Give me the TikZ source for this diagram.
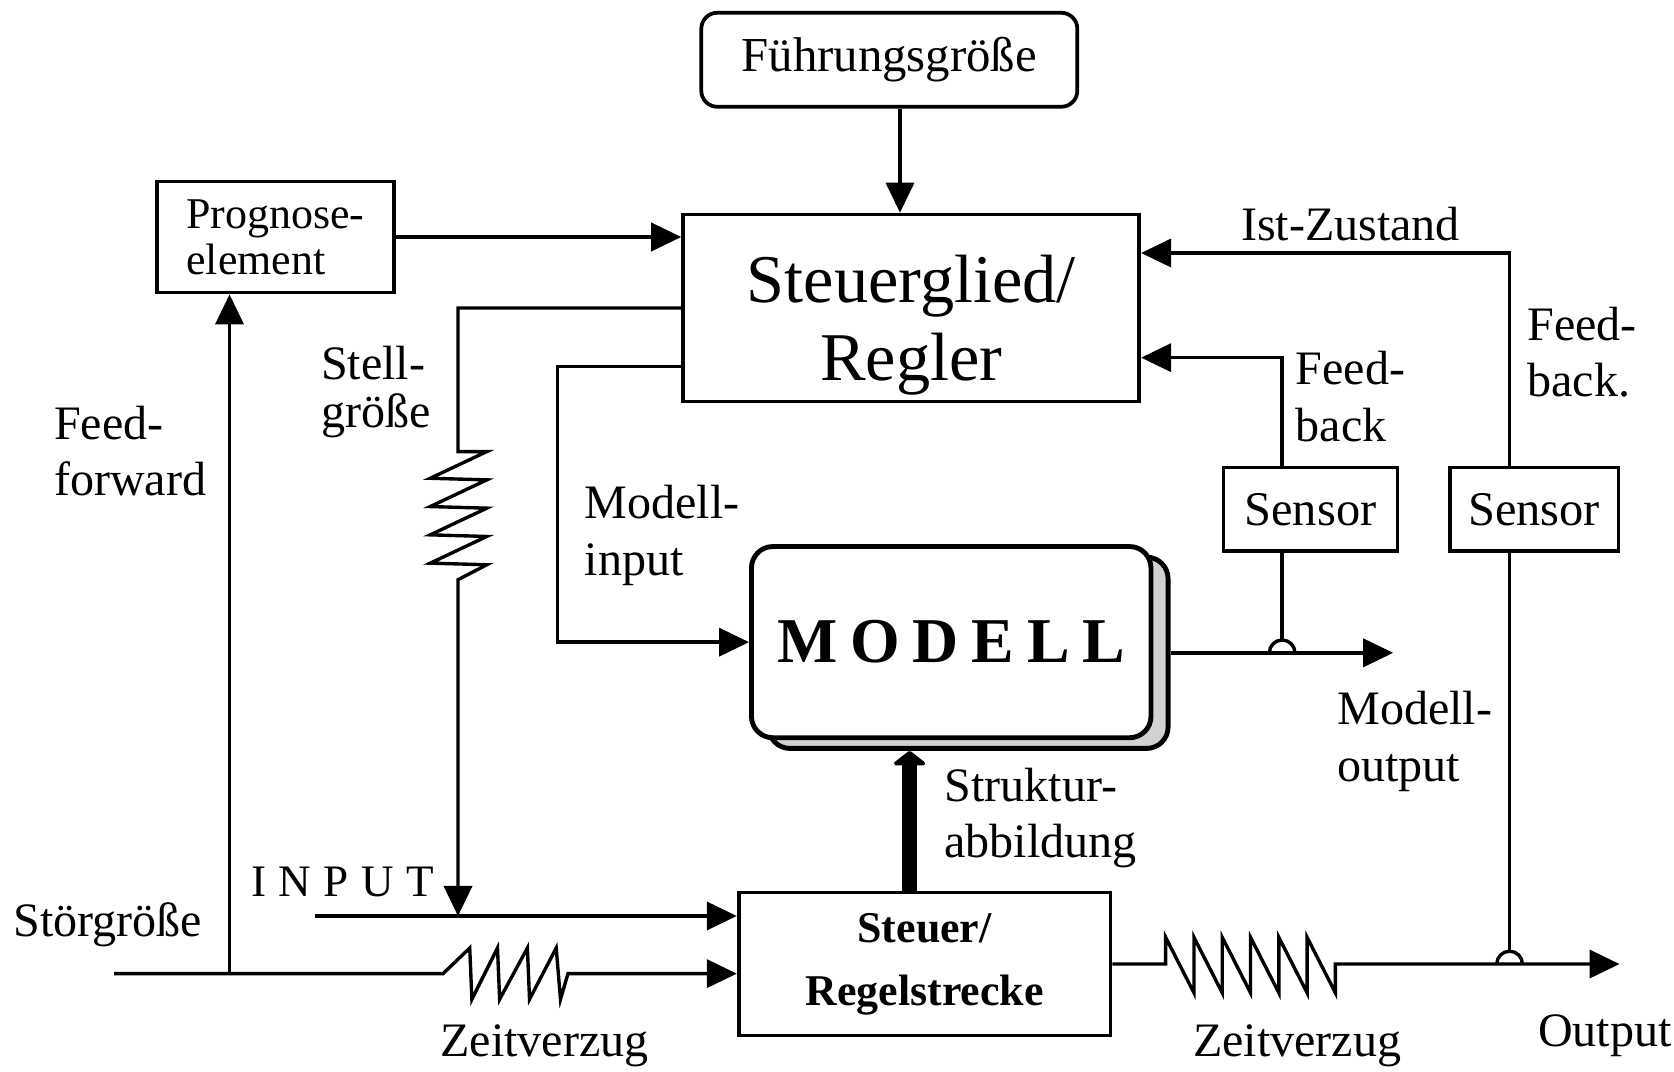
\documentclass[tikz,border=0pt]{standalone}
\usepackage{fontspec}
\setmainfont{Liberation Serif}
\usetikzlibrary{arrows.meta,positioning,calc}

\begin{document}
\begin{tikzpicture}[x=0.01cm, y=-0.01cm,
  box/.style={draw, line width=1pt, inner sep=0pt},
  lbl/.style={inner sep=0pt, align=left, font=\fontsize{12.8}{15}\selectfont},
  wire/.style={line width=0.9pt},
  arr/.style={wire, -{Triangle[length=8pt,width=7.5pt]}},
  bigarr/.style={line width=4pt, -{Triangle[length=4pt,width=10pt,round]}}]
\useasboundingbox (0,0) rectangle (1568,1004);
% --- blocks ---
\node[box, rounded corners=0.15cm, minimum width=3.52cm, minimum height=0.88cm, font=\fontsize{13}{15}\selectfont] (fuehr) at (833,56) {Führungsgröße};
\node[box, minimum width=4.27cm, minimum height=1.75cm, align=center, font=\fontsize{18.2}{20.8}\selectfont] (regler) at (853.5,288.5) {\rule{0pt}{22pt}Steuerglied/\\Regler};
\node[box, minimum width=2.22cm, minimum height=1.04cm, align=left, font=\fontsize{11.7}{12.2}\selectfont] (prog) at (258,222) {Prognose-\\element};
\node[box, rounded corners=0.2cm, line width=1.3pt, fill=gray!35, minimum width=3.74cm, minimum height=1.79cm] (mshadow) at (907,611.5) {};
\node[box, rounded corners=0.2cm, line width=1.3pt, fill=white, minimum width=3.74cm, minimum height=1.79cm, font=\fontsize{17}{20}\selectfont\bfseries] (modell) at (891,601.5) {\addfontfeatures{LetterSpace=20}MODELL};
\node[box, minimum width=1.63cm, minimum height=0.78cm, font=\fontsize{12.9}{15}\selectfont] (senA) at (1227.5,477) {Sensor};
\node[box, minimum width=1.58cm, minimum height=0.78cm, font=\fontsize{12.9}{15}\selectfont] (senB) at (1437,477) {Sensor};
\node[box, minimum width=3.48cm, minimum height=1.34cm, align=center, font=\fontsize{11.7}{16.8}\selectfont\bfseries] (strecke) at (866,903) {Steuer/\\Regelstrecke};

% --- labels ---
\node[lbl] (lIst) at (1265,210) {Ist-Zustand};
\node[lbl, anchor=west] (lFbB) at (1430,330) {Feed-\\back.};
\node[lbl, anchor=west] (lFbA) at (1213,371.5) {Feed-\\back};
\node[lbl, anchor=west] (lMout) at (1252,694.5) {Modell-\\output};
\node[lbl, anchor=west] (lOut) at (1440,970) {Output};
\node[lbl] (lZvB) at (1215,980) {Zeitverzug};
\node[lbl] (lZvA) at (510,980) {Zeitverzug};
\node[lbl, anchor=west] (lStoer) at (12,866) {Störgröße};
\node[lbl, font=\fontsize{12}{14}\selectfont] (lInput) at (321,826) {\addfontfeatures{LetterSpace=28}INPUT};
\node[lbl, anchor=west] (lStruk) at (884,766) {Struktur-\\abbildung};
\node[lbl, anchor=west] (lMin) at (547,501.5) {Modell-\\input};
\node[lbl, anchor=west, font=\fontsize{12.8}{12.8}\selectfont] (lStell) at (300,367.5) {Stell-\\größe};
\node[lbl, anchor=west] (lFf) at (50,422.5) {Feed-\\forward};

% --- connectors ---
\coordinate (fa) at ([xshift=0.1cm]fuehr.south);
\draw[arr] (fa) -- (fa |- regler.north);
\draw[arr] (prog.east) -- (prog.east -| regler.west);

% Stellgroesse with delay
\coordinate (stz) at (429,423);
\coordinate (inp) at (295,858);
\draw[arr] (regler.west) -| (stz) -- ++(27,0)
  \foreach \i in {1,...,4} { -- ++(-53,25) -- ++(53,1.5) }
  -- ++(-27,14) -- (stz |- inp);

% Modell-input
\coordinate (mi) at (522,601.5);
\draw[arr] ([yshift=-0.545cm]regler.west) -| (mi) -- (modell.west);

% feedback via sensors
\coordinate (sA) at ([xshift=-0.265cm]senA.south);
\coordinate (sA2) at ([xshift=-0.265cm]senA.north);
\coordinate (sB) at ([xshift=-0.23cm]senB.south);
\coordinate (sB2) at ([xshift=-0.23cm]senB.north);
\draw[arr] (sA2) |- ([yshift=-0.465cm]regler.east);
\draw[arr] (sB2) |- ([yshift=0.515cm]regler.east);

% Modell-output
\coordinate (moutEnd) at (1305,611.5);
\draw[arr] (mshadow.east) -- (moutEnd);
\coordinate (hopA) at (sA |- moutEnd);
\draw[wire] (sA) -- ([yshift=0.12cm]hopA);
\draw[wire] ([xshift=-0.12cm]hopA) arc[start angle=180, end angle=0, radius=0.12cm];

% INPUT and Stoergroesse
\draw[arr] (inp) -- (inp -| strecke.west);
\coordinate (stoer) at (107,912);
\coordinate (ff) at (215,912);
\draw[arr] (stoer) -- ++(308,0) -- ++(25,-24) -- ++(2,48) -- ++(24,-48) -- ++(2,48)
  -- ++(26,-48) -- ++(2,48) -- ++(25,-48) -- ++(4,48) -- ++(7,-24) -- (stoer -| strecke.west);
\draw[arr] (ff) -- (ff |- prog.south);

% Strukturabbildung
\coordinate (sa) at ([xshift=-0.14cm]strecke.north);
\draw[bigarr] (sa) -- (sa |- mshadow.south);

% Output with delay
\coordinate (outEnd) at (1517,903);
\draw[arr] (strecke.east) -- ++(50,0) -- ++(0,-25)
  \foreach \i in {1,...,5} { -- ++(26.5,52) -- ++(0,-52) }
  -- ++(26.5,52) -- ++(0,-27) -- (outEnd);
\coordinate (hopB) at (sB |- outEnd);
\draw[wire] (sB) -- ([yshift=0.12cm]hopB);
\draw[wire] ([xshift=-0.12cm]hopB) arc[start angle=180, end angle=0, radius=0.12cm];
\end{tikzpicture}
\end{document}
